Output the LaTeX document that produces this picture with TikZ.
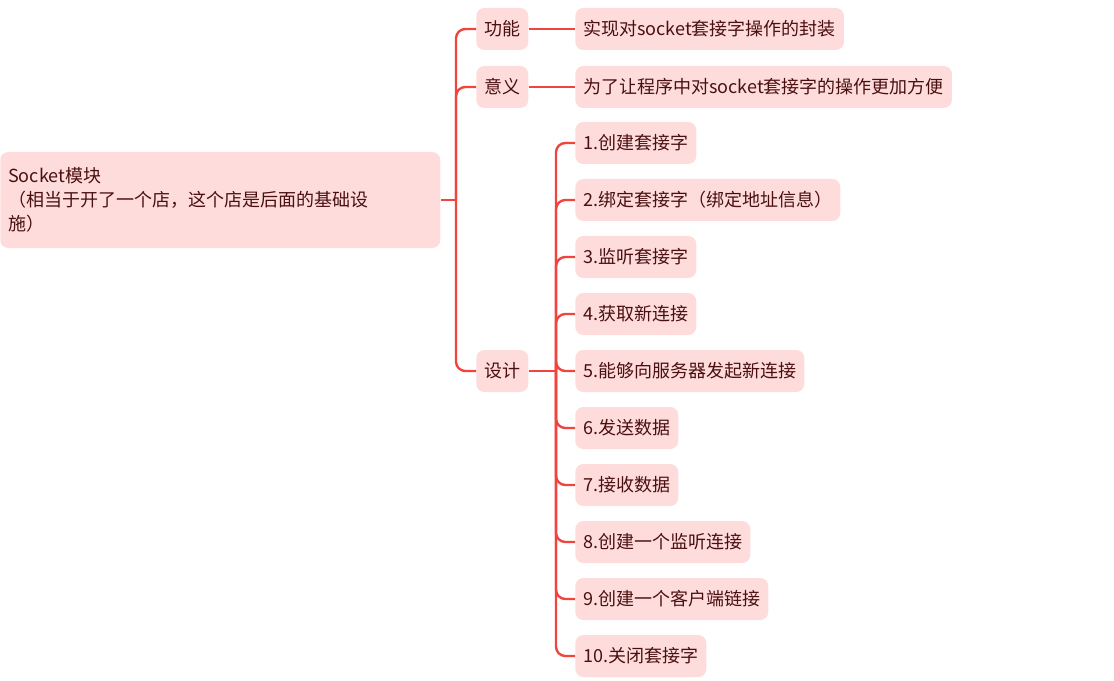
\documentclass[tikz,border=0pt]{standalone}
\usepackage{fontspec}
\setmainfont{Noto Sans CJK SC}
\definecolor{boxfill}{HTML}{FFDCDC}
\definecolor{txt}{HTML}{4A1010}
\definecolor{ln}{HTML}{F0443C}
\begin{document}
\begin{tikzpicture}[x=0.75pt,y=-0.75pt,
  box/.style={fill=boxfill,rounded corners=6pt,text=txt,font=\fontsize{13.5}{18}\selectfont,anchor=west,minimum height=31.5pt,inner xsep=6pt},
  conn/.style={draw=ln,line width=1.8pt,rounded corners=7pt}]
\useasboundingbox (0,0) rectangle (1114,681);
\node[box,align=left,minimum height=72pt,text width=318pt] (root) at (0,200) {Socket模块\\（相当于开了一个店，这个店是后面的基础设\\施）};
\node[box] (f) at (476,29) {功能};
\node[box] (y) at (476,87) {意义};
\node[box] (s) at (476,371) {设计};
\node[box] (f1) at (575,29) {实现对socket套接字操作的封装};
\node[box] (y1) at (575,87) {为了让程序中对socket套接字的操作更加方便};
\foreach \i/\t [count=\k from 0] in {1/1.创建套接字,2/2.绑定套接字（绑定地址信息）,3/3.监听套接字,4/4.获取新连接,5/5.能够向服务器发起新连接,6/6.发送数据,7/7.接收数据,8/8.创建一个监听连接,9/9.创建一个客户端链接,10/10.关闭套接字}
  \node[box] (d\i) at (575,143+57*\k) {\t};
\coordinate (j1) at (456,200);
\coordinate (j2) at (556,371);
\draw[conn] (root.east) -- (j1);
\foreach \n in {f,y,s} \draw[conn] (j1) |- (\n.west);
\draw[conn] (f.east) -- (f1.west);
\draw[conn] (y.east) -- (y1.west);
\draw[conn] (s.east) -- (j2);
\foreach \i in {1,...,10} \draw[conn] (j2) |- (d\i.west);
\end{tikzpicture}
\end{document}
